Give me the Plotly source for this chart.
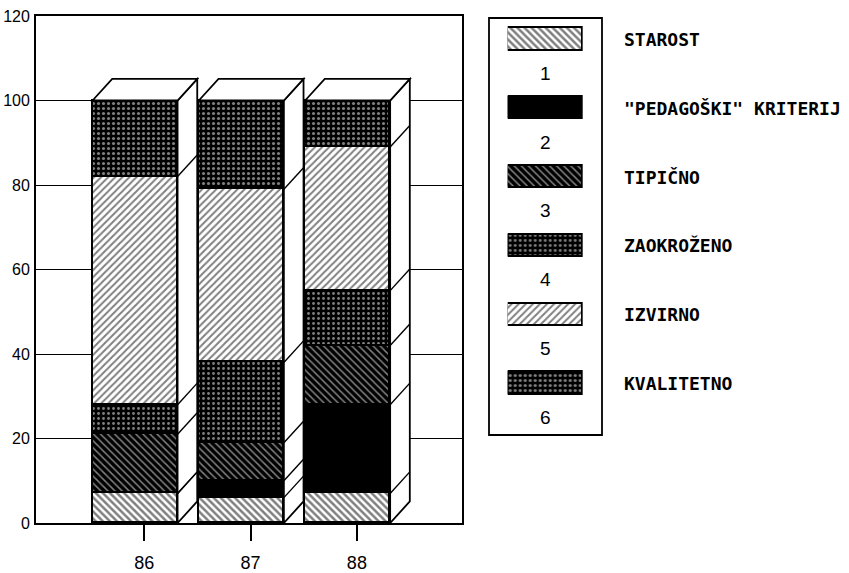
import plotly.graph_objects as go

# ---- data ----
years = ["86", "87", "88"]
series_names = ["STAROST", "\"PEDAGOŠKI\" KRITERIJ", "TIPIČNO", "ZAOKROŽENO", "IZVIRNO", "KVALITETNO"]
series_numbers = ["1", "2", "3", "4", "5", "6"]
starost = [7, 6, 7]
pedagoski = [0, 4, 21]
tipicno = [14, 9, 14]
zaokrozeno = [7, 19, 13]
izvirno = [54, 41, 34]
kvalitetno = [18, 21, 11]
y_ticks = [0, 20, 40, 60, 80, 100, 120]

values = [starost, pedagoski, tipicno, zaokrozeno, izvirno, kvalitetno]

# ---- styles ----
patterns = [
    dict(shape="\\", bgcolor="white", fgcolor="black", size=5, solidity=0.5),
    dict(shape="", bgcolor="black", fgcolor="black"),
    dict(shape="\\", bgcolor="black", fgcolor="white", size=5, solidity=0.3),
    dict(shape=".", bgcolor="black", fgcolor="white", size=5, solidity=0.25),
    dict(shape="/", bgcolor="white", fgcolor="black", size=5, solidity=0.4),
    dict(shape=".", bgcolor="black", fgcolor="white", size=5, solidity=0.3),
]
colors = ["white", "black", "black", "black", "white", "black"]

NUM_FONT = "Liberation Sans Narrow, Liberation Sans, Arial, sans-serif"
NAME_FONT = "DejaVu Sans Mono, monospace"

W, H = 849, 573
ML, MR, MT, MB = 36, 2, 16, 50
pw = W - ML - MR
ph = H - MT - MB

def px_x(p):
    return (p - ML) / pw

def px_y(p):
    return (H - MB - p) / ph

BAR_W = 0.80
BAR_OFF = -0.487
DX, DY = 0.185, 5.1
LW = 1.8

fig = go.Figure()
xpos = list(range(len(years)))
for name, vals, pat, col in zip(series_names, values, patterns, colors):
    fig.add_trace(go.Bar(
        x=xpos, y=vals, name=name, width=BAR_W, offset=BAR_OFF,
        marker=dict(color=col, pattern=pat, line=dict(color="black", width=LW)),
        showlegend=False, hoverinfo="y+name",
    ))

# 3D side and top faces derived from the data
shapes = []
for i in xpos:
    total = sum(v[i] for v in values)
    xl = i + BAR_OFF
    xr = xl + BAR_W
    shapes.append(dict(type="path", xref="x", yref="y", layer="above",
                       path=f"M {xr},0 L {xr+DX},{DY} L {xr+DX},{total+DY} L {xr},{total} Z",
                       fillcolor="white", line=dict(color="black", width=LW)))
    shapes.append(dict(type="path", xref="x", yref="y", layer="above",
                       path=f"M {xl},{total} L {xl+DX},{total+DY} L {xr+DX},{total+DY} L {xr},{total} Z",
                       fillcolor="white", line=dict(color="black", width=LW)))
    c = 0
    for v in values[:-1]:
        c += v[i]
        shapes.append(dict(type="line", xref="x", yref="y", layer="above",
                           x0=xr, y0=c, x1=xr + DX, y1=c + DY,
                           line=dict(color="black", width=1.4)))

# legend swatches (separate small axes)
SW_H = 0.32
for k, (name, pat, col) in enumerate(zip(series_names, patterns, colors)):
    fig.add_trace(go.Bar(
        x=[1], y=[k], base=0, orientation="h", width=SW_H,
        xaxis="x2", yaxis="y2", showlegend=False, hoverinfo="skip",
        marker=dict(color=col, pattern=pat, line=dict(color="black", width=LW)),
    ))

annotations = []
for k, (name, num) in enumerate(zip(series_names, series_numbers)):
    annotations.append(dict(xref="x2", yref="y2", x=0.5, y=k + 0.49, text=num,
                            showarrow=False, xanchor="center", yanchor="middle",
                            font=dict(family=NUM_FONT, size=19, color="black")))
    annotations.append(dict(xref="paper", yref="y2", x=px_x(622), y=k, text=f"<b>{name}</b>",
                            showarrow=False, xanchor="left", yanchor="middle",
                            font=dict(family=NAME_FONT, size=18, color="black")))

# legend frame
shapes.append(dict(type="rect", xref="paper", yref="paper",
                   x0=px_x(489), x1=px_x(602), y0=px_y(435), y1=px_y(18),
                   line=dict(color="black", width=LW), fillcolor="rgba(0,0,0,0)"))

sw_top_val = (18 - 39.5) / 68.8
sw_bot_val = (435 - 39.5) / 68.8

fig.update_layout(
    width=W, height=H,
    margin=dict(l=ML, r=MR, t=MT, b=MB, autoexpand=False),
    paper_bgcolor="white", plot_bgcolor="white",
    barmode="stack", bargap=0,
    showlegend=False,
    xaxis=dict(domain=[0, px_x(462)], range=[-1.019, 2.989], automargin=False,
               tickmode="array", tickvals=xpos, ticktext=years,
               ticks="outside", ticklen=16, tickwidth=1.5, tickcolor="black",
               ticklabelstandoff=6,
               showline=True, linecolor="black", linewidth=LW, mirror=True,
               showgrid=False, zeroline=False,
               tickfont=dict(family=NUM_FONT, size=18, color="black")),
    yaxis=dict(range=[0, 120], tickmode="array", tickvals=y_ticks, automargin=False,
               ticks="", showline=True, linecolor="black", linewidth=LW, mirror=True,
               showgrid=True, gridcolor="black", gridwidth=1.2, zeroline=False,
               ticklabelstandoff=1,
               tickfont=dict(family=NUM_FONT, size=16, color="black")),
    xaxis2=dict(domain=[px_x(507.7), px_x(582.7)], range=[0, 1], anchor="y2",
                visible=False, fixedrange=True),
    yaxis2=dict(domain=[px_y(435), px_y(18)], range=[sw_bot_val, sw_top_val], anchor="x2",
                visible=False, fixedrange=True),
    shapes=shapes,
    annotations=annotations,
)

fig.write_html("out.html", config={"displayModeBar": False},
               post_script="document.body.style.margin='0';document.body.style.overflow='hidden';")
